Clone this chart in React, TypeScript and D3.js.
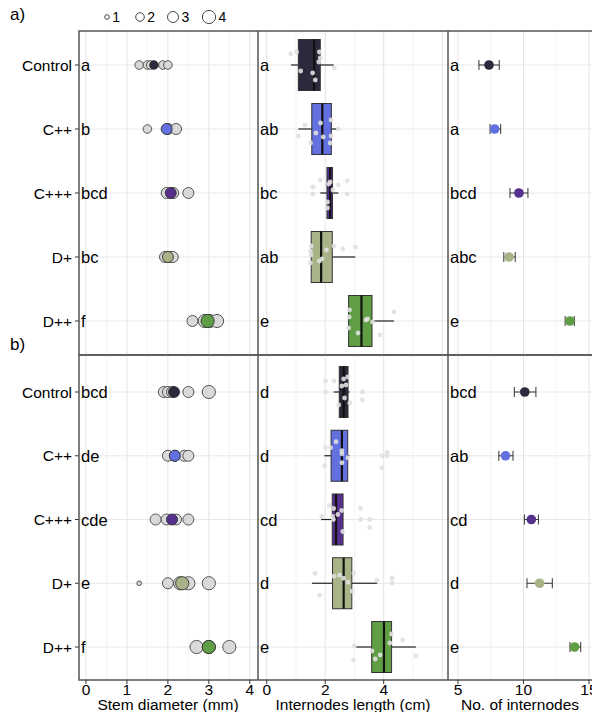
import React from "react";
import * as d3 from "d3";

const categories = ["Control", "C++", "C+++", "D+", "D++"];
const colors = ["#2b2a3d", "#6270e0", "#56308c", "#a9b388", "#5f9e45"];

// stem diameter: [value, count]
const stemA: [number, number][][] = [
  [[1.3, 2], [1.5, 2], [1.58, 2], [1.88, 2], [2.0, 2]],
  [[1.5, 2], [2.0, 3], [2.2, 3]],
  [[1.97, 3], [2.1, 3], [2.13, 3], [2.5, 3]],
  [[1.93, 3], [2.05, 3], [2.12, 3]],
  [[2.6, 3], [2.9, 4], [3.02, 4], [3.2, 4]],
];
const stemB: [number, number][][] = [
  [[1.9, 3], [2.0, 3], [2.1, 3], [2.5, 3], [3.0, 4]],
  [[2.0, 3], [2.17, 3], [2.4, 3], [2.5, 3]],
  [[1.7, 3], [1.97, 3], [2.2, 3], [2.5, 3]],
  [[1.3, 1], [2.0, 3], [2.3, 4], [2.5, 4], [3.0, 4]],
  [[2.7, 4], [3.0, 4], [3.5, 4]],
];
const stemMeanA = [1.66, 1.97, 2.07, 2.0, 2.97];
const stemMeanB = [2.15, 2.17, 2.1, 2.35, 3.0];
const stemMeanCountA = [2, 3, 3, 3, 4];
const stemMeanCountB = [3, 3, 3, 4, 4];

// internode boxplots: [lowWhisker, q1, median, q3, highWhisker]
const boxA = [
  [0.83, 1.08, 1.62, 1.83, 2.29],
  [1.08, 1.54, 1.9, 2.21, 2.4],
  [1.83, 2.06, 2.17, 2.25, 2.45],
  [1.5, 1.52, 1.86, 2.24, 3.03],
  [2.8, 2.8, 3.24, 3.6, 4.35],
];
const boxB = [
  [2.29, 2.48, 2.63, 2.78, 2.84],
  [1.97, 2.2, 2.57, 2.77, 2.84],
  [1.86, 2.24, 2.37, 2.61, 2.61],
  [1.55, 2.25, 2.63, 2.91, 3.78],
  [3.03, 3.59, 4.01, 4.27, 5.1],
];
// jittered raw internode points: [value, jitter]
const ptsA: [number, number][][] = [
  [[0.82, -11], [1.02, -13], [1.16, 6], [1.57, 8], [1.66, 15], [1.8, -13], [1.83, -7], [1.78, -3], [2.31, 3]],
  [[1.31, -4], [1.08, 7], [1.5, 14], [1.68, 4], [1.84, -6], [1.93, 8], [2.2, -9], [2.2, 7], [2.17, 14], [2.45, 0]],
  [[1.83, -13], [2.17, -11], [2.12, -9], [2.45, -8], [2.75, -12], [1.58, -6], [1.58, 1], [2.26, -3], [2.75, 1], [2.08, 9], [2.08, 15]],
  [[1.52, -11], [1.49, -6], [1.51, -2], [1.49, 6], [2.04, -7], [2.3, -11], [2.6, -8], [3.03, -10], [1.8, 4], [1.89, 2]],
  [[2.83, -11], [2.82, -4], [2.8, 7], [3.12, 12], [3.39, -1], [3.45, -2], [3.62, 1], [3.87, 14], [4.36, -9]],
];
const ptsB: [number, number][][] = [
  [[2.01, -11], [2.3, -11], [2.01, 0], [2.63, -13], [2.77, -15], [2.71, -7], [2.57, -6], [2.66, 6], [2.46, 13], [2.84, 11], [3.27, 0], [3.27, 8]],
  [[2.01, -8], [2.18, -8], [2.37, -14], [2.57, -5], [2.57, -2], [2.78, 2], [2.57, 7], [1.98, 10], [3.95, 0], [4.12, -3], [4.11, 0], [3.94, 12]],
  [[2.14, -14], [2.29, -11], [2.56, -9], [2.43, -5], [2.25, -3], [1.88, -3], [2.28, 0], [2.6, 12], [3.21, -11], [3.21, 0], [3.52, 0], [3.52, 8]],
  [[1.65, -10], [2.3, -7], [2.49, -8], [2.63, -5], [2.78, -1], [2.98, -10], [2.92, 8], [1.81, 12], [3.77, -3], [4.29, -5], [4.29, 0]],
  [[4.27, -13], [4.65, -7], [4.21, -4], [3.0, -1], [3.6, 4], [3.88, 8], [3.71, 12], [2.97, 13], [5.1, 9]],
];
// number of internodes: [mean, low, high]
const nodesA = [[7.37, 6.6, 8.15], [7.8, 7.45, 8.26], [9.65, 8.97, 10.34], [8.9, 8.5, 9.37], [13.54, 13.18, 13.88]];
const nodesB = [[10.1, 9.3, 10.95], [8.63, 8.12, 9.2], [10.6, 10.07, 11.14], [11.23, 10.27, 12.2], [13.9, 13.55, 14.37]];

const lettersStemA = ["a", "b", "bcd", "bc", "f"];
const lettersStemB = ["bcd", "de", "cde", "e", "f"];
const lettersLenA = ["a", "ab", "bc", "ab", "e"];
const lettersLenB = ["d", "d", "cd", "d", "e"];
const lettersNodA = ["a", "a", "bcd", "abc", "e"];
const lettersNodB = ["bcd", "ab", "cd", "d", "e"];

const ticks1 = [0, 1, 2, 3, 4];
const ticks2 = [0, 2, 4];
const ticks3 = [5, 10, 15];
const legendCounts = [1, 2, 3, 4];

const FONT = "'Liberation Sans', Arial, sans-serif";
const rScale = d3.scaleOrdinal<number, number>().domain([1, 2, 3, 4]).range([2.3, 4.3, 5.5, 6.6]);

const x1 = d3.scaleLinear().domain([-0.17, 4.2]).range([79, 258]);
const x2 = d3.scaleLinear().domain([-0.3, 6.2]).range([258, 448]);
const x3 = d3.scaleLinear().domain([4.24, 15.23]).range([448, 592]);

const blocks = [
  { top: 31, bottom: 355, y: d3.scalePoint<string>().domain(categories).range([65, 321]), stem: stemA, stemMean: stemMeanA, stemMC: stemMeanCountA, box: boxA, pts: ptsA, nodes: nodesA, L1: lettersStemA, L2: lettersLenA, L3: lettersNodA, label: "a)", labelY: 20 },
  { top: 355, bottom: 680, y: d3.scalePoint<string>().domain(categories).range([392, 647]), stem: stemB, stemMean: stemMeanB, stemMC: stemMeanCountB, box: boxB, pts: ptsB, nodes: nodesB, L1: lettersStemB, L2: lettersLenB, L3: lettersNodB, label: "b)", labelY: 350 },
];

function Grid({ x, major, minor, top, bottom, ys }: any) {
  const [x0, xe] = x.range();
  return (
    <g>
      {minor.map((v: number) => <line key={"m" + v} x1={x(v)} x2={x(v)} y1={top} y2={bottom} stroke="#f1f1f1" strokeWidth={0.8} />)}
      {major.map((v: number) => <line key={"M" + v} x1={x(v)} x2={x(v)} y1={top} y2={bottom} stroke="#e3e3e3" strokeWidth={1} />)}
      {ys.map((y: number, i: number) => <line key={"h" + i} x1={x0} x2={xe} y1={y} y2={y} stroke="#e8e8e8" strokeWidth={1} />)}
    </g>
  );
}

export default function App() {
  const BOXH = 51;
  return (
    <svg width={592} height={712} style={{ position: "absolute", left: 0, top: 0, background: "#fff" }} fontFamily={FONT}>
      <rect width={592} height={712} fill="#fff" />
      {legendCounts.map((n, i) => {
        const cx = [107, 140, 173, 209][i];
        return (
          <g key={n}>
            <circle cx={cx} cy={17} r={rScale(n)} fill="#fff" stroke="#333" strokeWidth={0.9} />
            <text x={cx + rScale(n) + 3} y={22} fontSize={14}>{n}</text>
          </g>
        );
      })}
      {blocks.map((b, bi) => {
        const ys = categories.map((c) => b.y(c)!);
        return (
          <g key={bi}>
            <text x={10} y={b.labelY} fontSize={17}>{b.label}</text>
            <Grid x={x1} major={[0, 1, 2, 3, 4]} minor={[0.5, 1.5, 2.5, 3.5]} top={b.top} bottom={b.bottom} ys={ys} />
            <Grid x={x2} major={[0, 2, 4, 6]} minor={[1, 3, 5]} top={b.top} bottom={b.bottom} ys={ys} />
            <Grid x={x3} major={[5, 10, 15]} minor={[7.5, 12.5]} top={b.top} bottom={b.bottom} ys={ys} />
            {categories.map((c, i) => {
              const y = b.y(c)!;
              const bx = b.box[i];
              const col = colors[i];
              const nd = b.nodes[i];
              return (
                <g key={c}>
                  <text x={72} y={y + 5.5} fontSize={15.5} textAnchor="end">{c}</text>
                  <line x1={75} x2={79} y1={y} y2={y} stroke="#333" />
                  <text x={81} y={y + 6} fontSize={16.5}>{b.L1[i]}</text>
                  <text x={260} y={y + 6} fontSize={16.5}>{b.L2[i]}</text>
                  <text x={450} y={y + 6} fontSize={16.5}>{b.L3[i]}</text>
                  {b.stem[i].map(([v, n], k) => (
                    <circle key={k} cx={x1(v)} cy={y} r={rScale(n)} fill="#d9d9d9" stroke="#444" strokeWidth={0.9} />
                  ))}
                  <circle cx={x1(b.stemMean[i])} cy={y} r={rScale(b.stemMC[i])} fill={col} stroke="#333" strokeWidth={0.9} />
                  <line x1={x2(bx[0])} x2={x2(bx[1])} y1={y} y2={y} stroke="#222" strokeWidth={1.2} />
                  <line x1={x2(bx[3])} x2={x2(bx[4])} y1={y} y2={y} stroke="#222" strokeWidth={1.2} />
                  <rect x={x2(bx[1])} y={y - BOXH / 2} width={x2(bx[3]) - x2(bx[1])} height={BOXH} fill={col} stroke="#333" strokeWidth={1} />
                  <line x1={x2(bx[2])} x2={x2(bx[2])} y1={y - BOXH / 2} y2={y + BOXH / 2} stroke="#111" strokeWidth={2.2} />
                  {b.pts[i].map(([v, j], k) => (
                    <circle key={k} cx={x2(v)} cy={y + j} r={2.4} fill="#e0e0e0" opacity={0.9} />
                  ))}
                  <line x1={x3(nd[1])} x2={x3(nd[2])} y1={y} y2={y} stroke="#333" strokeWidth={1} />
                  <line x1={x3(nd[1])} x2={x3(nd[1])} y1={y - 5} y2={y + 5} stroke="#333" strokeWidth={1} />
                  <line x1={x3(nd[2])} x2={x3(nd[2])} y1={y - 5} y2={y + 5} stroke="#333" strokeWidth={1} />
                  <circle cx={x3(nd[0])} cy={y} r={4.8} fill={col} />
                </g>
              );
            })}
            <rect x={79} y={b.top} width={600} height={b.bottom - b.top} fill="none" stroke="#555" strokeWidth={1.5} />
            <line x1={258} x2={258} y1={b.top} y2={b.bottom} stroke="#555" strokeWidth={1.5} />
            <line x1={448} x2={448} y1={b.top} y2={b.bottom} stroke="#555" strokeWidth={1.5} />
          </g>
        );
      })}
      {[
        { x: x1, t: ticks1, title: "Stem diameter (mm)", cx: 168 },
        { x: x2, t: ticks2, title: "Internodes length (cm)", cx: 353 },
        { x: x3, t: ticks3, title: "No. of internodes", cx: 520 },
      ].map((a, ai) => (
        <g key={ai}>
          {a.t.map((v) => (
            <g key={v}>
              <line x1={a.x(v)} x2={a.x(v)} y1={680} y2={684} stroke="#333" />
              <text x={a.x(v)} y={695} fontSize={15.5} textAnchor="middle">{v}</text>
            </g>
          ))}
          <text x={a.cx} y={710} fontSize={15.5} textAnchor="middle">{a.title}</text>
        </g>
      ))}
    </svg>
  );
}
